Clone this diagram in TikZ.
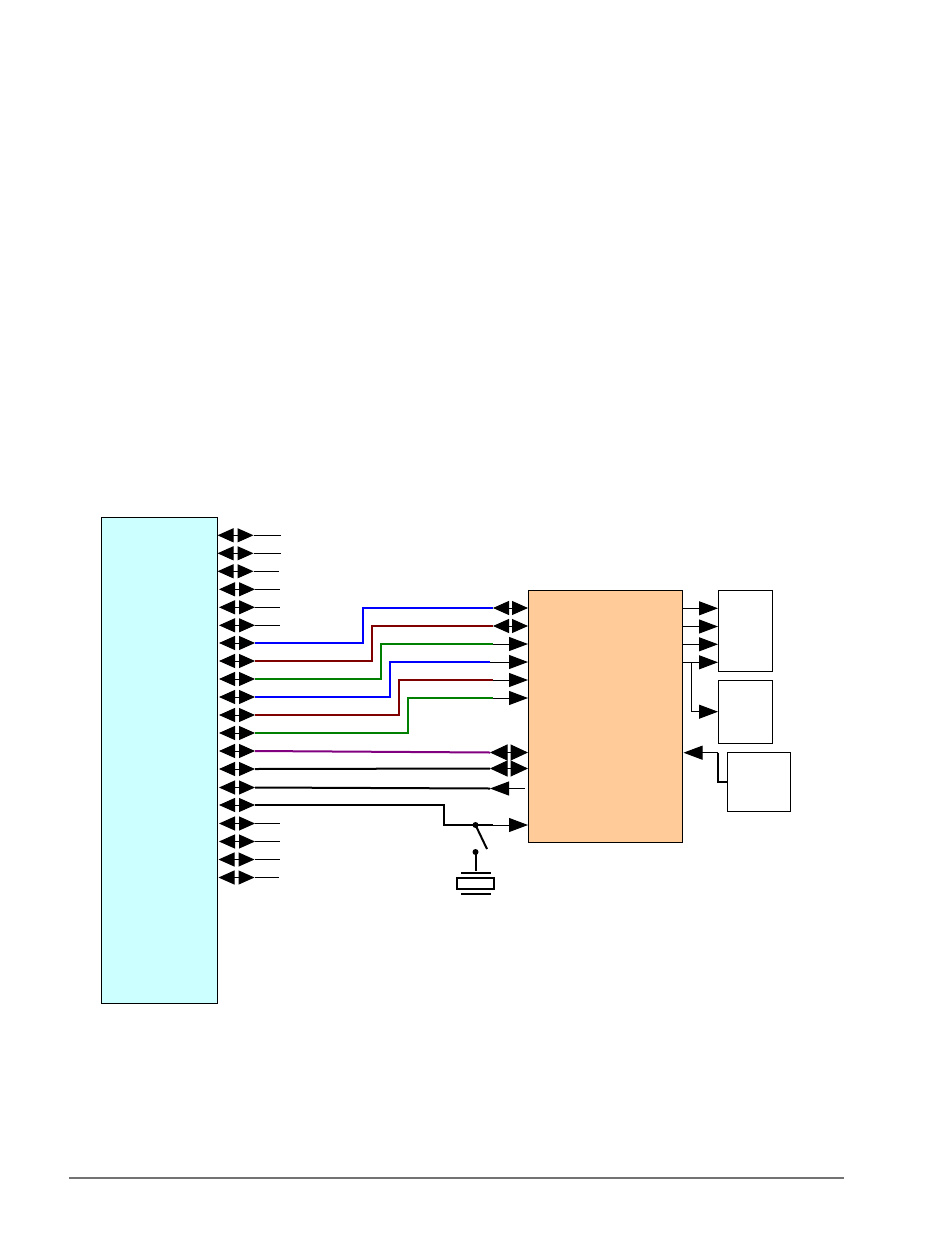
\documentclass[tikz,border=0pt]{standalone}
\usetikzlibrary{arrows.meta}
\definecolor{cpucyan}{HTML}{CCFFFF}
\definecolor{bridgeorange}{HTML}{FFCC99}
\definecolor{wireblue}{HTML}{0000FF}
\definecolor{wirered}{HTML}{800000}
\definecolor{wiregreen}{HTML}{008000}
\definecolor{wirepurple}{HTML}{800080}
\tikzset{
    blockbox/.style={draw=black,line width=1pt,inner sep=0pt,outer sep=0pt},
    pinboth/.style={line width=1pt,{Triangle[length=16pt,width=14pt]}-{Triangle[length=16pt,width=14pt]}},
    busboth/.style={line width=1pt,{Triangle[length=17.5pt,width=16pt]}-{Triangle[length=17.5pt,width=16pt]}},
    pinone/.style={line width=1pt,-{Triangle[length=19pt,width=14pt]}},
    stubline/.style={line width=1pt},
    wireline/.style={line width=2pt},
    xtalline/.style={line width=2pt}
}
\begin{document}
\begin{tikzpicture}[x=1pt,y=-1pt]
            \useasboundingbox (0,0) rectangle (950,1246);

            % blocks
            \node[blockbox,fill=cpucyan,minimum width=116pt,minimum height=486pt] (cpu) at (159,760) {};
            \node[blockbox,fill=bridgeorange,minimum width=154pt,minimum height=252pt] (bridge) at (605,716) {};
            \node[blockbox,minimum width=54pt,minimum height=81pt] (portA) at (745,630.5) {};
            \node[blockbox,minimum width=54pt,minimum height=63pt] (portB) at (745,711.5) {};
            \node[blockbox,minimum width=63pt,minimum height=59pt] (portC) at (758.5,781.5) {};

            % pins on the left block
            \foreach \i/\y/\l in {1/535.3/217.5,2/553.3/217.5,3/571.3/217.5,4/589.3/219,5/607.3/219,
                                  6/625.3/219,7/643/219,8/661/219,9/679/219,10/697/219,
                                  11/715/219,12/733/219,13/751/219,14/769/219,15/787.5/219,
                                  16/805/219,17/823.5/219,18/841.5/219,19/859.5/218.5,20/877.5/218.5} {
                \coordinate (pinL\i) at (\l,\y);
                \coordinate (pinR\i) at (\l+36,\y);
                \draw[pinboth] (pinL\i) -- (pinR\i);
            }

            % loose pins
            \foreach \i/\x in {1/281,2/281,3/279,4/280,5/280,6/280,17/280,18/280,19/280,20/279} {
                \coordinate (stub\i) at (\x,0 |- pinR\i);
                \draw[stubline] (pinR\i) -- (stub\i);
            }

            % pins on the right block
            \foreach \i/\x/\y in {1/493/608,2/493/626,3/493/644,4/490/662,5/493/680,6/493/698} {
                \coordinate (inL\i) at (\x,\y);
                \coordinate (inR\i) at (bridge.west |- inL\i);
            }
            \foreach \i in {1,2} {
                \draw[pinboth] (inL\i) -- (inR\i);
            }
            \foreach \i in {3,4,5,6} {
                \draw[pinone] (inL\i) -- (inR\i);
            }

            % routed wires
            \draw[wireline,wireblue] (pinR7) -| (363,608) -- (inL1);
            \draw[wireline,wirered] (pinR8) -| (372,626) -- (inL2);
            \draw[wireline,wiregreen] (pinR9) -| (381,644) -- (inL3);
            \draw[wireline,wireblue] (pinR10) -| (390,662) -- (inL4);
            \draw[wireline,wirered] (pinR11) -| (399,680) -- (inL5);
            \draw[wireline,wiregreen] (pinR12) -| (408,698) -- (inL6);

            % straight buses
            \coordinate (busL1) at (490,752.5);
            \coordinate (busL2) at (490,768.5);
            \coordinate (busL3) at (490,788.5);
            \coordinate (busR1) at (bridge.west |- busL1);
            \coordinate (busR2) at (bridge.west |- busL2);
            \coordinate (busE3) at (525,788.5);
            \draw[wireline,wirepurple] (pinR13) -- (busL1);
            \draw[wireline,black] (pinR14) -- (busL2);
            \draw[wireline,black] (pinR15) -- (busL3);
            \draw[busboth] (busL1) -- (busR1);
            \draw[busboth] (busL2) -- (busR2);
            \draw[pinone] (busE3) -- (busL3);

            % switched wire and crystal
            \coordinate (swA) at (475.5,825);
            \coordinate (swB) at (487,849);
            \coordinate (swC) at (475.5,852);
            \coordinate (swD) at (475.5,871);
            \coordinate (swE) at (493,825);
            \coordinate (swF) at (bridge.west |- swA);
            \draw[wireline] (pinR16) -| (444,825) -- (swE);
            \draw[pinone] (swE) -- (swF);
            \draw[xtalline] (swA) -- (swB);
            \draw[xtalline] (swC) -- (swD);
            \fill (swA) circle (3);
            \fill (swC) circle (3);
            \node[blockbox,line width=2pt,minimum width=37pt,minimum height=11.5pt] (xtal) at (475.5,883.5) {};
            \coordinate (xtalT) at (461,873);
            \coordinate (xtalB) at (461,894);
            \draw[xtalline] (xtalT) -- ++(30,0);
            \draw[xtalline] (xtalB) -- ++(30,0);

            % outputs of the right block
            \foreach \i/\y in {1/608.3,2/626.5,3/644.3,4/662.3} {
                \coordinate (outL\i) at (bridge.east |- 0,\y);
                \coordinate (outR\i) at (portA.west |- 0,\y);
                \draw[pinone] (outL\i) -- (outR\i);
            }
            \coordinate (tapA) at (691.3,662.3);
            \coordinate (tapB) at (portB.west |- 0,711.7);
            \draw[pinone] (tapA) |- (tapB);

            % input of the right block
            \coordinate (backA) at (683.5,752.7);
            \coordinate (backB) at (717.7,752.7);
            \coordinate (backC) at (717.7,781.7);
            \draw[pinone] (backB) -- (backA);
            \draw[wireline] (backB) -- (backC) -- (portC.west |- backC);

            % rule at the foot of the page
            \coordinate (footL) at (69,1178);
            \coordinate (footR) at (844,1178);
            \draw[line width=2pt,black!55] (footL) -- (footR);
        \end{tikzpicture}
\end{document}
